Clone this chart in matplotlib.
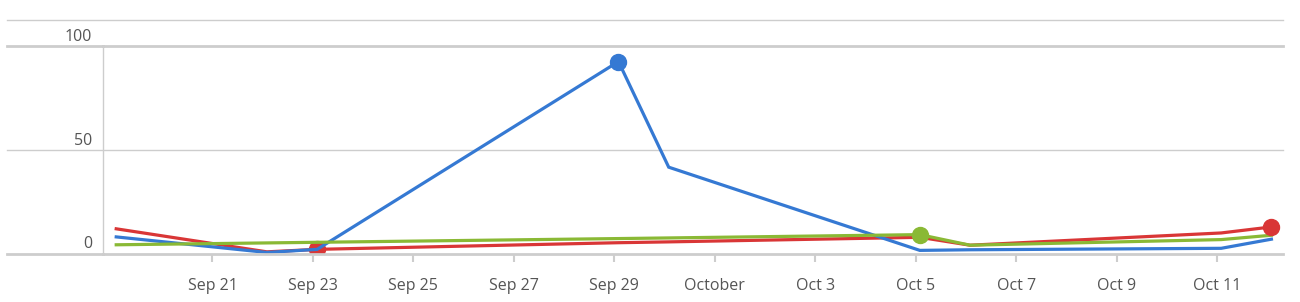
import matplotlib
matplotlib.use("Agg")
import matplotlib.pyplot as plt
import matplotlib.dates as mdates
import matplotlib.transforms as mtransforms
from matplotlib.lines import Line2D
import pandas as pd

plt.rcParams['font.family'] = ['Open Sans', 'DejaVu Sans']

dates = pd.to_datetime([
    "2023-09-19 02:00", "2023-09-22 02:00", "2023-09-23 02:00", "2023-09-29 02:00",
    "2023-09-30 02:00", "2023-10-05 02:00", "2023-10-06 02:00", "2023-10-11 02:00",
    "2023-10-12 02:00",
])
blue_vals = [8.0, 0.5, 2.0, 92.5, 41.6, 1.5, 1.8, 2.5, 6.9]
red_vals = [11.9, 0.8, 2.0, 5.2, 5.6, 7.8, 4.0, 9.9, 12.8]
green_vals = [4.2, 5.1, 5.4, 7.2, 7.5, 9.1, 4.0, 6.7, 8.8]

blue_markers = [3]
red_markers_low = [2]
red_markers_high = [8]
green_markers = [5]

tick_dates = pd.date_range("2023-09-21", "2023-10-11", freq="2D")
y_ticks = [0, 50, 100]

BLUE = "#3579d3"
RED = "#d93636"
GREEN = "#8ab935"
GRID = "#cdcdcd"
TXT = "#555555"

W, H = 1300, 302
fig = plt.figure(figsize=(W / 100, H / 100), dpi=100)
left, right = 103 / W, 1283 / W
bottom, top = (H - 253.5) / H, (H - 46) / H
ax = fig.add_axes([left, bottom, right - left, top - bottom])

lw = 2.3
ms = 11.5
ax.plot(dates, red_vals, color=RED, lw=lw, zorder=2.0, solid_joinstyle='miter')
ax.plot(dates[red_markers_low], [red_vals[i] for i in red_markers_low], 'o',
        color=RED, ms=ms, zorder=2.05)
ax.plot(dates, blue_vals, color=BLUE, lw=lw, zorder=2.1, solid_joinstyle='miter')
ax.plot(dates, green_vals, color=GREEN, lw=lw, zorder=2.2, solid_joinstyle='miter')
ax.plot(dates[blue_markers], [blue_vals[i] for i in blue_markers], 'o',
        color=BLUE, ms=ms, zorder=3)
ax.plot(dates[green_markers], [green_vals[i] for i in green_markers], 'o',
        color=GREEN, ms=ms, zorder=3)
ax.plot(dates[red_markers_high], [red_vals[i] for i in red_markers_high], 'o',
        color=RED, ms=ms, zorder=3)

ax.set_ylim(0, 100)
ax.set_xlim(pd.Timestamp("2023-09-21") - pd.Timedelta(days=2.180),
            pd.Timestamp("2023-10-11") + pd.Timedelta(days=1.314))

ax.spines["right"].set_visible(False)
ax.spines["left"].set_color(GRID)
ax.spines["left"].set_linewidth(1.0)
ax.spines["top"].set_color(GRID)
ax.spines["top"].set_linewidth(2.0)
ax.spines["bottom"].set_color(GRID)
ax.spines["bottom"].set_linewidth(2.0)

ext = -96 / 1180
ax.axhline(50, color=GRID, lw=1.0, xmin=ext, xmax=1, clip_on=False, zorder=1)
ax.axhline(100, color=GRID, lw=2.0, xmin=ext, xmax=0, clip_on=False, zorder=1)
ax.axhline(0, color=GRID, lw=2.0, xmin=ext, xmax=0, clip_on=False, zorder=1)
fig.add_artist(Line2D([7 / W, 1283 / W], [1 - 20 / H] * 2, color=GRID, lw=1.0))

ax.set_yticks(y_ticks)
ax.set_yticklabels([str(v) for v in y_ticks])
ax.tick_params(axis='y', length=0, pad=8, labelsize=11.5, labelcolor=TXT)
offset = mtransforms.ScaledTranslation(0, 0.11, fig.dpi_scale_trans)
for lab in ax.get_yticklabels():
    lab.set_transform(lab.get_transform() + offset)

def fmt(x, pos=None):
    d = mdates.num2date(x)
    if d.day == 1:
        return d.strftime("%B")
    return d.strftime("%b ") + str(d.day)

ax.set_xticks(tick_dates)
ax.xaxis.set_major_formatter(plt.FuncFormatter(fmt))
ax.tick_params(axis='x', length=6, width=1.5, color=GRID, pad=12,
               labelsize=11.5, labelcolor=TXT)

fig.savefig("out.png", dpi=100)
